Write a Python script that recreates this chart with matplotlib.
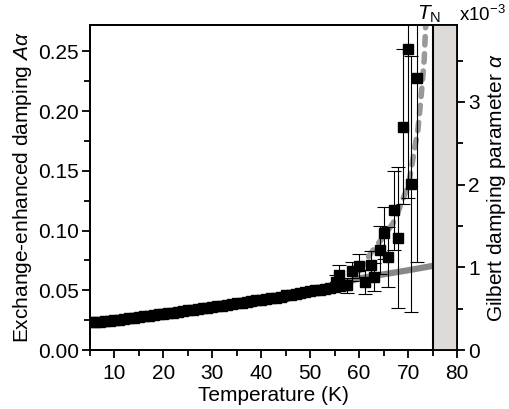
import matplotlib
matplotlib.use('Agg')
from matplotlib import pyplot as plt
from matplotlib.ticker import MultipleLocator

plt.rcParams['font.family'] = ['Liberation Sans', 'DejaVu Sans']
plt.rcParams['mathtext.fontset'] = 'custom'
plt.rcParams['mathtext.rm'] = 'Liberation Sans'
plt.rcParams['mathtext.it'] = 'Liberation Sans:italic'

# exchange-enhanced damping A*alpha, dense low-T region (1 K steps)
temp_low = [5, 6, 7, 8, 9, 10, 11, 12, 13, 14, 15, 16, 17, 18, 19, 20,
            21, 22, 23, 24, 25, 26, 27, 28, 29, 30, 31, 32, 33, 34, 35,
            36, 37, 38, 39, 40, 41, 42, 43, 44, 45, 46, 47, 48, 49, 50,
            51, 52, 53, 54, 55, 56, 57]
aa_low = [0.0235, 0.0238, 0.0236, 0.0242, 0.0245, 0.0250, 0.0252, 0.0258,
          0.0265, 0.0270, 0.0278, 0.0282, 0.0288, 0.0292, 0.0298, 0.0302,
          0.0308, 0.0312, 0.0320, 0.0326, 0.0332, 0.0336, 0.0342, 0.0348,
          0.0352, 0.0362, 0.0368, 0.0372, 0.0378, 0.0384, 0.0392, 0.0396,
          0.0402, 0.0408, 0.0415, 0.0422, 0.0426, 0.0432, 0.0438, 0.0444,
          0.0458, 0.0462, 0.0470, 0.0476, 0.0484, 0.0492, 0.0500, 0.0506,
          0.0514, 0.0522, 0.0530, 0.0538, 0.0545]
err_low = [0.003] * len(temp_low)

# scattered points near T_N
temp_high = [55.2, 55.9, 57.6, 58.6, 60.0, 61.3, 62.4, 63.0, 64.2, 65.1,
             65.9, 67.2, 67.9, 68.9, 69.9, 70.6, 71.8]
aa_high = [0.057, 0.063, 0.054, 0.066, 0.070, 0.057, 0.071, 0.061, 0.084,
           0.098, 0.078, 0.117, 0.094, 0.187, 0.252, 0.139, 0.228]
err_high = [0.006, 0.008, 0.006, 0.008, 0.010, 0.010, 0.012, 0.012, 0.020,
            0.022, 0.025, 0.033, 0.059, 0.065, 0.125, 0.107, 0.154]

# Gilbert damping alpha (x1e-3), grey solid line
temp_alpha = [5, 10, 15, 20, 25, 30, 35, 40, 45, 50, 55, 60, 65, 70, 75.3]
alpha = [0.33, 0.36, 0.40, 0.43, 0.47, 0.51, 0.55, 0.59, 0.64, 0.70, 0.77,
         0.867, 0.915, 0.964, 1.02]

# diverging fit, grey dashed line (A*alpha)
temp_fit = [60.0, 62.4, 65.0, 66.9, 67.9, 68.9, 70.0, 70.6, 71.2, 72.0,
            72.6, 73.3, 73.6, 73.8]
aa_fit = [0.066, 0.081, 0.095, 0.106, 0.115, 0.126, 0.137, 0.150, 0.165,
          0.184, 0.209, 0.243, 0.272, 0.30]

T_N = 75
fs = 15

fig = plt.figure(figsize=(5.09, 4.09), dpi=100)
ax = fig.add_axes([90/509, 1-350/409, 367/509, 325/409])
ax2 = ax.twinx()

ax.axvspan(T_N, 80, color='#dddad8', zorder=0, lw=0)
ax.axvline(T_N, color='k', lw=1.5, zorder=5)

ax2.plot(temp_alpha, alpha, color='#888888', lw=4.5, solid_capstyle='round',
         zorder=1)
ax.plot(temp_fit, aa_fit, color='#999999', lw=4, ls=(0, (1.5, 1.6)),
        dash_capstyle='round', zorder=1)

ax.errorbar(temp_low, aa_low, yerr=err_low, fmt='s', color='k', ms=6.5,
            elinewidth=0.8, capsize=5, capthick=0.8, zorder=3)
ax.errorbar(temp_high, aa_high, yerr=err_high, fmt='s', color='k', ms=6.5,
            elinewidth=0.8, capsize=5, capthick=0.8, zorder=3)

ax.set_zorder(ax2.get_zorder() + 1)
ax.patch.set_visible(False)

ax.set_xlim(5, 80)
ax.set_ylim(0, 0.272)
ax2.set_ylim(0, 3.93)

ax.xaxis.set_major_locator(MultipleLocator(10))
ax.xaxis.set_minor_locator(MultipleLocator(5))
ax.yaxis.set_major_locator(MultipleLocator(0.05))
ax.yaxis.set_minor_locator(MultipleLocator(0.025))
ax2.yaxis.set_major_locator(MultipleLocator(1))
ax2.yaxis.set_minor_locator(MultipleLocator(0.5))
ax.yaxis.set_major_formatter(lambda v, p: '%.2f' % v)
ax2.yaxis.set_major_formatter(lambda v, p: '%d' % round(v))

for a in (ax, ax2):
    a.tick_params(which='major', direction='out', length=6, width=1.3,
                  labelsize=fs, pad=2)
    a.tick_params(which='minor', direction='out', length=4, width=1.3)
    for s in a.spines.values():
        s.set_linewidth(1.3)
ax.tick_params(axis='x', which='major', pad=4)

ax.set_xlabel('Temperature (K)', fontsize=fs, labelpad=2)
ax.set_ylabel(r'Exchange-enhanced damping $A\alpha$', fontsize=fs, labelpad=3)
ax2.set_ylabel(r'Gilbert damping parameter $\alpha$', fontsize=fs, labelpad=4)

ax.text(74.3, 1.0, r'$T_\mathrm{N}$', transform=ax.get_xaxis_transform(),
        ha='center', va='bottom', fontsize=fs)
ax.text(1.006, 1.0, r'x10$^{\mathrm{-3}}$', transform=ax.transAxes,
        ha='left', va='bottom', fontsize=13.5)

fig.savefig('out.png', dpi=100)
